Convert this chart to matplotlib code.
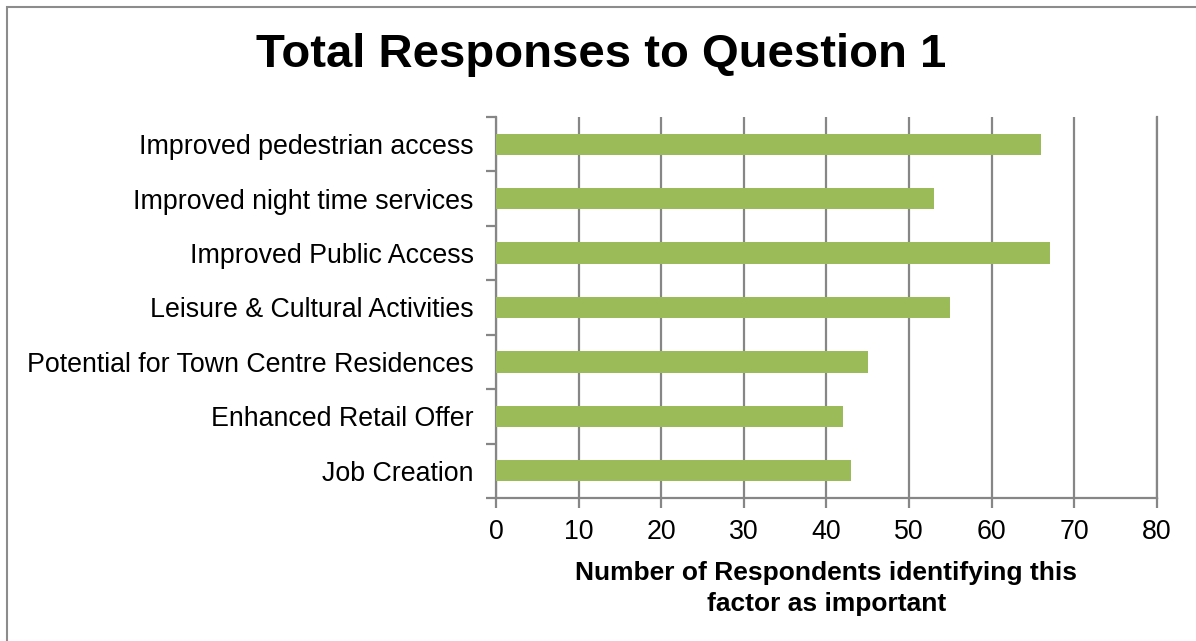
import matplotlib.pyplot as plt
from matplotlib.patches import Rectangle
import numpy as np

# factors, top to bottom
factors = [
    "Improved pedestrian access",
    "Improved night time services",
    "Improved Public Access",
    "Leisure & Cultural Activities",
    "Potential for Town Centre Residences",
    "Enhanced Retail Offer",
    "Job Creation",
]
responses = [66, 53, 67, 55, 45, 42, 43]
x_ticks = [0, 10, 20, 30, 40, 50, 60, 70, 80]

BAR_COLOR = "#9BBB59"
GRID_COLOR = "#868686"

plt.rcParams['font.family'] = ['Liberation Sans', 'DejaVu Sans']

fig = plt.figure(figsize=(11.96, 6.41), dpi=100)
ax = fig.add_axes([0.4147, 0.2231, 0.5527, 0.5944])

# outer frame of the chart area
fig.patches.append(Rectangle((7 / 1196, -0.1), 1.2, 1 - 7 / 641 + 0.1,
                             transform=fig.transFigure, fill=False,
                             edgecolor="#8c8c8c", linewidth=1.5))

y = np.arange(len(factors))
ax.barh(y, responses, height=0.39, color=BAR_COLOR, zorder=3)

ax.set_xlim(0, 80)
ax.set_ylim(len(factors) - 0.5, -0.5)
ax.set_xticks(x_ticks)
ax.set_yticks(y)
ax.set_yticklabels(factors)
ax.set_yticks(np.arange(-0.5, len(factors)), minor=True)

ax.grid(axis="x", color=GRID_COLOR, linewidth=1.6, zorder=0)
ax.tick_params(axis="y", which="major", length=0, pad=16, labelsize=19.3)
ax.tick_params(axis="y", which="minor", length=7, width=1.6, color=GRID_COLOR)
ax.tick_params(axis="x", length=7, width=1.6, color=GRID_COLOR, labelsize=19.3, pad=8)

ax.spines["top"].set_visible(False)
for side in ("left", "bottom", "right"):
    ax.spines[side].set_color(GRID_COLOR)
    ax.spines[side].set_linewidth(1.6)

ax.set_xlabel("Number of Respondents identifying this\nfactor as important",
              fontsize=19, fontweight="bold", labelpad=12, linespacing=1.35)

fig.text(0.503, 0.914, "Total Responses to Question 1", ha="center", va="center",
         fontsize=34, fontweight="bold")

fig.savefig("out.png", dpi=100)
